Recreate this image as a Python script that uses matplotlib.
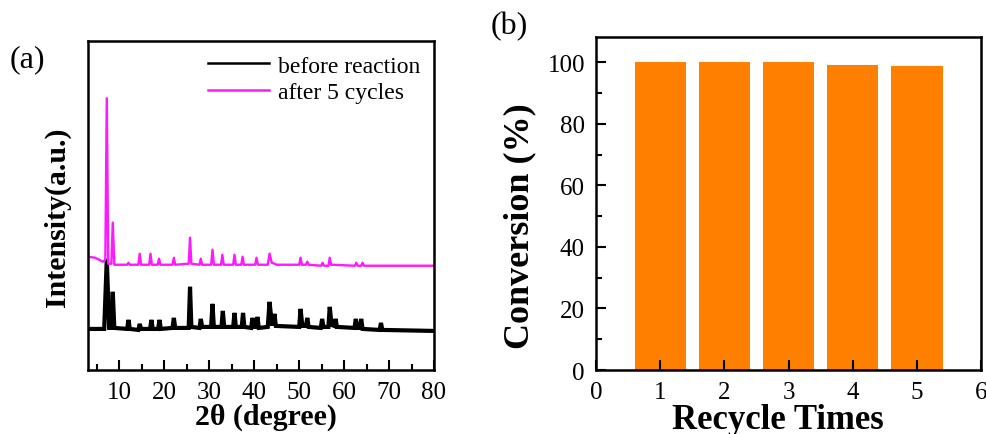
import matplotlib
matplotlib.use("Agg")
import matplotlib.pyplot as plt
from matplotlib.ticker import MultipleLocator

# ---------------- data ----------------
# XRD traces (2theta in degrees, intensity in arbitrary units incl. vertical offset)
before_x = [3, 6.6, 7.17, 7.7, 8.2, 8.5, 8.85, 11.7, 12.0, 12.3, 14.2, 14.5, 14.8,
            16.8, 17.1, 17.4, 18.6, 18.9, 19.2, 21.8, 22.1, 22.4, 25.4, 25.7, 26.0,
            27.8, 28.1, 28.4, 30.4, 30.7, 31.0, 32.7, 33.0, 33.3, 35.3, 35.6, 35.9,
            37.2, 37.5, 37.8, 39.3, 39.6, 39.9, 40.4, 40.7, 41.0, 43.0, 43.4, 43.9,
            44.2, 44.5, 44.8, 50.0, 50.3, 50.7, 51.5, 51.8, 52.1, 54.8, 55.1, 55.4,
            56.5, 56.8, 57.2, 57.8, 58.1, 58.4, 62.3, 62.6, 62.9, 63.5, 63.8, 64.1,
            67.9, 68.2, 68.5, 80]
before_y = [41, 41, 111, 42, 42, 78, 42, 41, 50, 41, 40, 46, 41,
            41, 50, 41, 41, 50, 41, 42, 52, 42, 42, 83, 43,
            42, 51, 43, 43, 66, 43, 43, 59, 43, 43, 57, 43,
            43, 57, 43, 42, 52, 43, 43, 53, 42, 43, 68, 46,
            46, 56, 44, 43, 61, 44, 44, 52, 43, 42, 51, 43,
            43, 63, 45, 44, 51, 43, 42, 51, 42, 42, 51, 41,
            40, 47, 40, 39]

after_x = [3, 4.5, 5.5, 6.3, 6.85, 7.17, 7.5, 8.2, 8.5, 8.85, 11.7, 12.0, 12.3,
           14.2, 14.5, 14.8, 16.6, 16.9, 17.2, 18.5, 18.8, 19.1, 21.8, 22.1, 22.4,
           25.4, 25.7, 26.0, 27.8, 28.1, 28.4, 30.4, 30.7, 31.0, 32.6, 32.9, 33.2,
           35.3, 35.6, 35.9, 37.1, 37.4, 37.7, 40.2, 40.5, 40.8, 43.0, 43.4, 43.9,
           44.5, 45.0, 50.0, 50.3, 50.6, 51.5, 51.8, 52.1, 54.9, 55.2, 55.5,
           56.5, 56.8, 57.1, 62.4, 62.7, 63.0, 63.8, 64.1, 64.4, 80]
after_y = [113, 112, 110, 108, 110, 271, 106, 106, 147, 105, 105, 107, 105,
           105, 116, 105, 105, 116, 105, 105, 111, 105, 105, 112, 105,
           106, 132, 106, 105, 111, 105, 105, 120, 105, 105, 115, 105,
           105, 115, 105, 105, 113, 105, 105, 112, 105, 105, 116, 107,
           106, 105, 105, 112, 105, 105, 108, 105, 104, 107, 104,
           104, 112, 105, 104, 107, 104, 104, 107, 104, 104]

# recycling test
recycle_times = [1, 2, 3, 4, 5]
conversion = [100.0, 100.0, 100.0, 99.0, 98.7]

# ---------------- figure ----------------
plt.rcParams['font.family'] = ['Liberation Serif', 'DejaVu Serif']
plt.rcParams['mathtext.fontset'] = 'stix'

fig = plt.figure(figsize=(9.87, 4.35), dpi=100)
ax1 = fig.add_axes([0.0892, 0.147, 0.3505, 0.7564])
ax2 = fig.add_axes([0.6039, 0.147, 0.3901, 0.7656])

# panel (a)
ax1.plot(before_x, before_y, color='black', lw=3.0, label='before reaction',
         solid_joinstyle='miter')
ax1.plot(after_x, after_y, color='#ff19ff', lw=1.7, label='after 5 cycles')
ax1.set_xlim(3, 80)
ax1.set_ylim(0, 328)
ax1.set_yticks([])
ax1.xaxis.set_minor_locator(MultipleLocator(5))
ax1.set_xticks([10, 20, 30, 40, 50, 60, 70, 80])
ax1.tick_params(axis='x', which='major', direction='in', length=7, width=1.5,
                labelsize=18, pad=8)
ax1.tick_params(axis='x', which='minor', direction='in', length=4, width=1.5)
ax1.set_xlabel('2θ (degree)', fontsize=21.5, fontweight='bold')
ax1.set_ylabel('Intensity(a.u.)', fontsize=21.5, fontweight='bold')
ax1.xaxis.set_label_coords(0.515, -0.098)
ax1.yaxis.set_label_coords(-0.05, 0.468)
for s in ax1.spines.values():
    s.set_linewidth(1.8)
leg = ax1.legend(loc='upper right', frameon=False, fontsize=17, handlelength=2.6,
                 handletextpad=0.35, labelspacing=0.2, borderaxespad=0.2)
for h in leg.get_lines():
    h.set_linewidth(1.8)
fig.text(0.010, 0.862, '(a)', fontsize=23, ha='left', va='center')

# panel (b)
ax2.bar(recycle_times, conversion, width=0.8, color='#ff8000')
ax2.set_xlim(0, 6)
ax2.set_ylim(0, 108.2)
ax2.set_xticks([0, 1, 2, 3, 4, 5, 6])
ax2.yaxis.set_major_locator(MultipleLocator(20))
ax2.yaxis.set_minor_locator(MultipleLocator(10))
ax2.tick_params(axis='both', which='major', direction='in', length=7, width=1.5,
                labelsize=18, pad=8)
ax2.tick_params(axis='y', which='minor', direction='in', length=4, width=1.5)
ax2.set_xlabel('Recycle Times', fontsize=25, fontweight='bold')
ax2.set_ylabel('Conversion (%)', fontsize=26, fontweight='bold')
ax2.xaxis.set_label_coords(0.471, -0.098)
ax2.yaxis.set_label_coords(-0.155, 0.435)
for s in ax2.spines.values():
    s.set_linewidth(1.8)
fig.text(0.497, 0.94, '(b)', fontsize=23, ha='left', va='center')

fig.savefig('out.png', dpi=100)
